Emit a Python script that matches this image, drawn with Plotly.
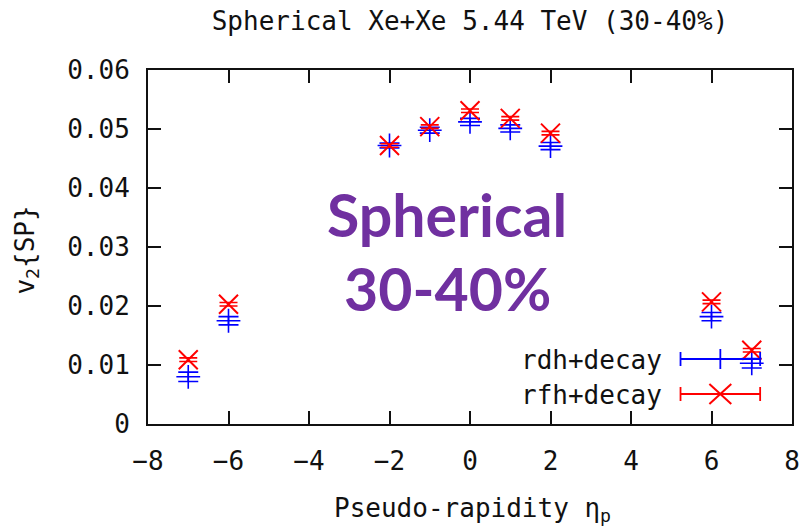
import plotly.graph_objects as go

# Pseudo-rapidity bins and v2{SP} values for the two setups
eta = [-7, -6, -2, -1, 0, 1, 2, 6, 7]
v2_rdh = [0.0080, 0.0175, 0.0472, 0.0498, 0.0512, 0.0501, 0.0471, 0.0182, 0.0103]
err_rdh = [0.0008, 0.0007, 0.0004, 0.0005, 0.0006, 0.0006, 0.0006, 0.0007, 0.0008]
v2_rfh = [0.0109, 0.0203, 0.0472, 0.0504, 0.0531, 0.0518, 0.0493, 0.0207, 0.0125]
err_rfh = [0.0003, 0.0003, 0.0003, 0.0003, 0.0003, 0.0003, 0.0003, 0.0003, 0.0003]

x_ticks = [-8, -6, -4, -2, 0, 2, 4, 6, 8]
y_ticks = [0, 0.01, 0.02, 0.03, 0.04, 0.05, 0.06]
y_tick_text = ["0", "0.01", "0.02", "0.03", "0.04", "0.05", "0.06"]

W, H = 812, 529
ML, MR, MT, MB = 148, 17, 70, 105
PW, PH = W - ML - MR, H - MT - MB

MONO = "DejaVu Sans Mono"
FS = 26
BLUE = "#0000ff"
RED = "#ff0000"


def px(xp):
    return (xp - ML) / PW


def py(yp):
    return (H - MB - yp) / PH


fig = go.Figure()

fig.add_trace(go.Scatter(
    x=eta, y=v2_rdh, mode="markers", name="rdh+decay",
    marker=dict(symbol="cross-thin", size=17, line=dict(color=BLUE, width=1.6)),
    error_y=dict(type="data", array=err_rdh, color=BLUE, thickness=1.6, width=10),
))
fig.add_trace(go.Scatter(
    x=eta, y=v2_rfh, mode="markers", name="rfh+decay",
    marker=dict(symbol="x-thin", size=19, line=dict(color=RED, width=2)),
    error_y=dict(type="data", array=err_rfh, color=RED, thickness=1.6, width=9),
))

shapes = []
annotations = []

# key entries drawn in gnuplot style: errorbar sample with point in the middle
key_x0, key_x1, key_xm = 683, 763, 723
for yk, col, label, pt in [(359, BLUE, "rdh+decay", "plus"), (394, RED, "rfh+decay", "x")]:
    ln = dict(color=col, width=1.8)
    shapes.append(dict(type="line", xref="paper", yref="paper",
                       x0=px(key_x0), x1=px(key_x1), y0=py(yk), y1=py(yk), line=ln))
    for xe in (key_x0, key_x1):
        shapes.append(dict(type="line", xref="paper", yref="paper",
                           x0=px(xe), x1=px(xe), y0=py(yk - 7), y1=py(yk + 7), line=ln))
    if pt == "plus":
        shapes.append(dict(type="line", xref="paper", yref="paper",
                           x0=px(key_xm), x1=px(key_xm), y0=py(yk - 10), y1=py(yk + 10), line=ln))
    else:
        shapes.append(dict(type="line", xref="paper", yref="paper",
                           x0=px(key_xm - 11), x1=px(key_xm + 11), y0=py(yk - 10), y1=py(yk + 10),
                           line=dict(color=col, width=2)))
        shapes.append(dict(type="line", xref="paper", yref="paper",
                           x0=px(key_xm - 11), x1=px(key_xm + 11), y0=py(yk + 10), y1=py(yk - 10),
                           line=dict(color=col, width=2)))
    annotations.append(dict(text=label, xref="paper", yref="paper", x=px(666), y=py(yk + 1),
                            xanchor="right", yanchor="middle", showarrow=False,
                            font=dict(family=MONO, size=FS, color="#111")))

# overlaid label inside the frame
annotations.append(dict(text="<b>Spherical</b>", xref="paper", yref="paper",
                        x=px(448), y=py(214), xanchor="center", yanchor="middle", showarrow=False,
                        font=dict(family="Lato", size=59, color="#7030a0")))
annotations.append(dict(text="<b>30-40%</b>", xref="paper", yref="paper",
                        x=px(449), y=py(288), xanchor="center", yanchor="middle", showarrow=False,
                        font=dict(family="Lato", size=59, color="#7030a0")))

# axis titles
annotations.append(dict(text="Pseudo-rapidity η<sub>p</sub>", xref="paper", yref="paper",
                        x=px(474), y=py(509), xanchor="center", yanchor="middle", showarrow=False,
                        font=dict(family=MONO, size=FS, color="#111")))
annotations.append(dict(text="v<sub>2</sub>{SP}", xref="paper", yref="paper",
                        x=px(25), y=py(250), xanchor="center", yanchor="middle", showarrow=False,
                        textangle=-90, font=dict(family=MONO, size=FS, color="#111")))

axis_common = dict(
    showgrid=False, zeroline=False, showline=True, linecolor="#111", linewidth=2,
    mirror="allticks", ticks="inside", ticklen=13, tickwidth=1.6, tickcolor="#111",
    tickfont=dict(family=MONO, size=FS, color="#111"),
)

fig.update_layout(
    width=W, height=H,
    margin=dict(l=ML, r=MR, t=MT, b=MB),
    paper_bgcolor="white", plot_bgcolor="white",
    showlegend=False,
    title=dict(text="Spherical Xe+Xe 5.44 TeV (30-40%)", x=470 / W, xanchor="center",
               y=1 - 21 / H, yanchor="middle", yref="container",
               font=dict(family=MONO, size=FS, color="#111")),
    xaxis=dict(range=[-8, 8], tickvals=x_ticks, ticklabelstandoff=13, **axis_common),
    yaxis=dict(range=[0, 0.06], tickvals=y_ticks, ticktext=y_tick_text,
               ticklabelstandoff=11, **axis_common),
    shapes=shapes,
    annotations=annotations,
)

fig.write_html("out.html")
